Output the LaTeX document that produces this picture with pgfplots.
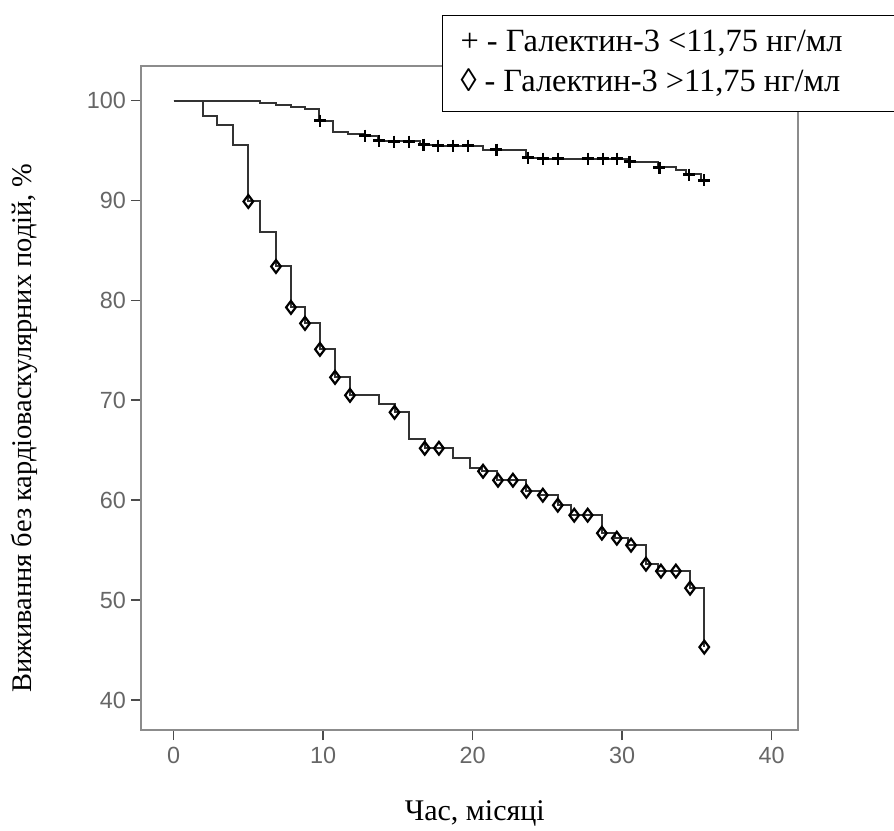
\documentclass[border=0pt]{standalone}
\usepackage{pgfplots}
\pgfplotsset{compat=1.18}
\usepackage{fontspec}
\setmainfont{Liberation Serif}
\newfontfamily\tickfont{Liberation Sans}
\begin{document}
\begin{tikzpicture}
\path[use as bounding box] (0,0) rectangle (447pt,415pt);
\begin{axis}[
  at={(70.5pt,50pt)}, anchor=south west,
  scale only axis, width=328.5pt, height=332pt,
  xmin=-2.18, xmax=41.77, ymin=37.0, ymax=103.46,
  xtick={0,10,20,30,40}, ytick={40,50,60,70,80,90,100},
  tick align=outside, major tick length=5pt,
  xtick pos=bottom, ytick pos=left,
  axis line style={black!45, line width=0.8pt},
  tick style={black!70, line width=0.8pt},
  /pgf/number format/assume math mode=true,
  tick label style={font=\tickfont\fontsize{11.7}{12}\selectfont, text=black!60},
  yticklabel style={xshift=1pt},
  xlabel={Час, місяці},
  ylabel={Виживання без кардіоваскулярних подій, \%},
  xlabel style={font=\fontsize{15}{18}\selectfont, at={(axis description cs:0.508,-0.125)}, anchor=center},
  ylabel style={font=\fontsize{14.2}{17}\selectfont, at={(axis description cs:-0.177,0.455)}, anchor=center},
  legend style={at={(axis description cs:0.458,1.077)}, anchor=north west,
    draw=black, line width=0.6pt, font=\fontsize{16.2}{20}\selectfont,
    inner xsep=7pt, inner ysep=4pt, row sep=0pt,
    nodes={text height=12pt, text depth=4pt, inner ysep=2pt}},
  legend cell align=left,
]
% upper group: Galectin-3 < 11.75
\addplot[const plot, black!80, line width=1pt, forget plot] coordinates {
(0,100) (5.78,99.8) (6.85,99.6) (7.83,99.35) (8.79,99.15) (9.75,98.0)
(10.67,96.9) (11.67,96.7) (12.67,96.5) (13.67,96.0) (16.5,95.6) (17.5,95.5)
(20.7,95.1) (23.6,94.3) (24.5,94.2) (30.3,93.9) (32.4,93.4) (33.6,93.1)
(34.3,92.7) (35.3,92.0) (35.5,92.0)};
\addplot[only marks, mark=+, mark size=3pt, black, mark options={line width=1.1pt}, forget plot] coordinates {
(9.8,98.0) (12.8,96.5) (13.75,96.0) (14.76,95.9) (15.77,95.9) (16.72,95.6)
(17.7,95.5) (18.7,95.5) (19.7,95.5) (21.6,95.1) (23.7,94.3) (24.7,94.2)
(25.7,94.2) (27.7,94.2) (28.7,94.2) (29.65,94.2) (30.5,93.9) (32.5,93.3)
(34.5,92.6) (35.5,92.0)};
% lower group: Galectin-3 > 11.75
\addplot[const plot, black!80, line width=1pt, forget plot] coordinates {
(0,100) (1.95,98.5) (2.88,97.6) (3.95,95.6) (5.0,89.9) (5.78,86.8)
(6.85,83.4) (7.85,79.3) (8.79,77.7) (9.79,75.1) (10.8,72.3) (11.8,70.5)
(13.77,69.6) (14.78,68.8) (15.78,66.1) (16.8,65.2) (18.7,64.2) (19.8,63.2)
(20.6,62.9) (21.63,62.0) (23.6,60.9) (24.5,60.5) (25.7,59.5) (26.6,58.5)
(28.65,56.7) (29.5,56.2) (30.4,55.5) (31.6,53.6) (32.4,52.9) (34.55,51.2)
(35.5,45.3)};
\addplot[only marks, mark=diamond, mark size=3.2pt, black, mark options={line width=1.1pt}, forget plot] coordinates {
(5.0,89.9) (6.85,83.4) (7.85,79.3) (8.79,77.7) (9.79,75.1) (10.8,72.3)
(11.8,70.5) (14.78,68.8) (16.8,65.2) (17.75,65.2) (20.7,62.9) (21.7,62.0)
(22.7,62.0) (23.6,60.9) (24.7,60.5) (25.7,59.5) (26.8,58.5) (27.7,58.5)
(28.65,56.7) (29.65,56.2) (30.6,55.5) (31.6,53.6) (32.6,52.9) (33.6,52.9)
(34.55,51.2) (35.5,45.3)};
\addlegendimage{empty legend}
\addlegendentry{\makebox[209pt][l]{+ - Галектин-3 <11,75 нг/мл}}
\addlegendimage{empty legend}
\addlegendentry{\makebox[209pt][l]{◊ - Галектин-3 >11,75 нг/мл}}
\end{axis}
\end{tikzpicture}
\end{document}
